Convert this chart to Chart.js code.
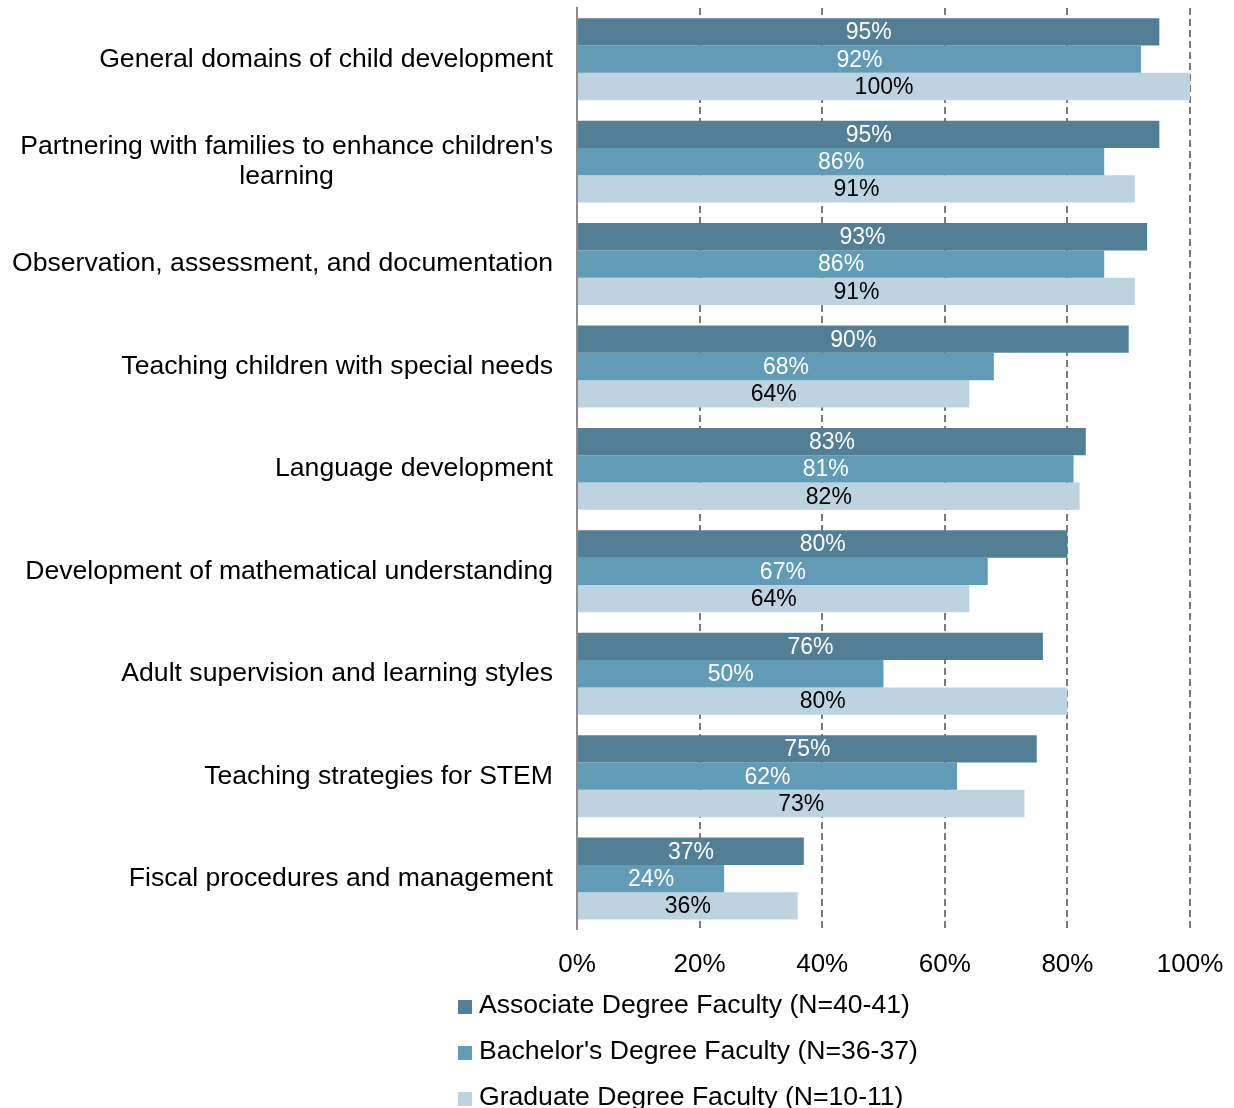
<!DOCTYPE html>
<html lang="en">
<head>
    <meta charset="UTF-8">
    <title>Faculty Coverage by Topic</title>
    <script src="https://cdn.jsdelivr.net/npm/chart.js"></script>
    <style>
        body {
            margin: 0;
            background: #ffffff;
            font-family: "Liberation Sans", Arial, sans-serif;
            color: #000;
        }
        #wrap {
            position: relative;
            width: 1234px;
            height: 1108px;
            overflow: hidden;
        }
        #chartBox {
            position: absolute;
            left: 0;
            top: 0;
            width: 1234px;
            height: 1001px;
        }
        #legend {
            position: absolute;
            left: 458px;
            top: 981px;
            list-style: none;
            margin: 0;
            padding: 0;
        }
        #legend li {
            height: 46px;
            line-height: 46px;
            font-size: 26.6px;
            white-space: nowrap;
        }
        #legend span.box {
            display: inline-block;
            width: 14px;
            height: 14px;
            margin-right: 7px;
            vertical-align: -1px;
        }
    </style>
</head>
<body>
<div id="wrap">
    <div id="chartBox"><canvas id="barChart"></canvas></div>
    <ul id="legend"></ul>
</div>

<script>
    // categories (top to bottom)
    const categories = [
        'General domains of child development',
        ["Partnering with families to enhance children's", 'learning'],
        'Observation, assessment, and documentation',
        'Teaching children with special needs',
        'Language development',
        'Development of mathematical understanding',
        'Adult supervision and learning styles',
        'Teaching strategies for STEM',
        'Fiscal procedures and management'
    ];

    const seriesNames = [
        'Associate Degree Faculty (N=40-41)',
        "Bachelor's Degree Faculty (N=36-37)",
        'Graduate Degree Faculty (N=10-11)'
    ];

    const associateVals = [95, 95, 93, 90, 83, 80, 76, 75, 37];
    const bachelorVals  = [92, 86, 86, 68, 81, 67, 50, 62, 24];
    const graduateVals  = [100, 91, 91, 64, 82, 64, 80, 73, 36];

    const xTicks = [0, 20, 40, 60, 80, 100];

    const barColors = ['#527f95', '#629bb5', '#bdd3df'];
    const labelColors = ['#ffffff', '#ffffff', '#000000'];

    const FONT = '"Liberation Sans", Arial, sans-serif';

    // value labels centred inside each bar
    const valueLabels = {
        id: 'valueLabels',
        afterDatasetsDraw(chart) {
            const ctx = chart.ctx;
            ctx.save();
            ctx.font = '23px ' + FONT;
            ctx.textAlign = 'center';
            ctx.textBaseline = 'middle';
            chart.data.datasets.forEach((ds, di) => {
                const meta = chart.getDatasetMeta(di);
                meta.data.forEach((bar, i) => {
                    ctx.fillStyle = labelColors[di];
                    ctx.fillText(ds.data[i] + '%', (bar.x + bar.base) / 2, bar.y + 1);
                });
            });
            ctx.restore();
        }
    };

    // category labels: block right-aligned, lines centred within block
    const catLabels = {
        id: 'catLabels',
        afterDraw(chart) {
            const scale = chart.scales.y;
            const ctx = chart.ctx;
            ctx.save();
            ctx.font = '26.6px ' + FONT;
            ctx.fillStyle = '#000';
            ctx.textAlign = 'center';
            ctx.textBaseline = 'middle';
            const right = chart.chartArea.left - 24;
            const lh = 30;
            categories.forEach((lab, i) => {
                const lines = Array.isArray(lab) ? lab : [lab];
                const w = Math.max(...lines.map(l => ctx.measureText(l).width));
                const cx = right - w / 2;
                const cy = scale.getPixelForTick(i);
                lines.forEach((l, k) => {
                    ctx.fillText(l, cx, cy + (k - (lines.length - 1) / 2) * lh);
                });
            });
            ctx.restore();
        }
    };

    const datasets = [associateVals, bachelorVals, graduateVals].map((vals, i) => ({
        label: seriesNames[i],
        data: vals,
        backgroundColor: barColors[i],
        borderWidth: 0,
        categoryPercentage: 0.8,
        barPercentage: 1.0
    }));

    new Chart(document.getElementById('barChart'), {
        type: 'bar',
        data: {
            labels: categories,
            datasets: datasets
        },
        options: {
            indexAxis: 'y',
            responsive: true,
            maintainAspectRatio: false,
            animation: false,
            layout: {
                padding: { left: 12, right: 44, top: 8, bottom: 2 }
            },
            plugins: {
                legend: { display: false },
                tooltip: { enabled: false }
            },
            scales: {
                x: {
                    min: 0,
                    max: 100,
                    afterBuildTicks: (scale) => {
                        scale.ticks = xTicks.map(v => ({ value: v }));
                    },
                    afterFit: (scale) => {
                        scale.paddingLeft = 0;
                        scale.paddingRight = 0;
                    },
                    ticks: {
                        padding: 19,
                        color: '#000',
                        font: { family: FONT, size: 26 },
                        callback: (v) => v + '%'
                    },
                    grid: {
                        drawTicks: false,
                        lineWidth: 2,
                        color: (c) => c.index === 0 ? 'rgba(0,0,0,0)' : '#7a7a7a'
                    },
                    border: { display: false, dash: [7, 4] }
                },
                y: {
                    afterFit: (scale) => {
                        scale.width = 565;
                        scale.paddingTop = 0;
                        scale.paddingBottom = 0;
                    },
                    ticks: {
                        color: 'rgba(0,0,0,0)',
                        font: { family: FONT, size: 26 }
                    },
                    grid: { display: false, drawTicks: false },
                    border: { display: true, color: '#8c8c8c', width: 2 }
                }
            }
        },
        plugins: [valueLabels, catLabels]
    });

    // legend as a vertical list under the chart
    const legendEl = document.getElementById('legend');
    seriesNames.forEach((name, i) => {
        const li = document.createElement('li');
        const box = document.createElement('span');
        box.className = 'box';
        box.style.background = barColors[i];
        li.appendChild(box);
        li.appendChild(document.createTextNode(name));
        legendEl.appendChild(li);
    });
</script>
</body>
</html>
